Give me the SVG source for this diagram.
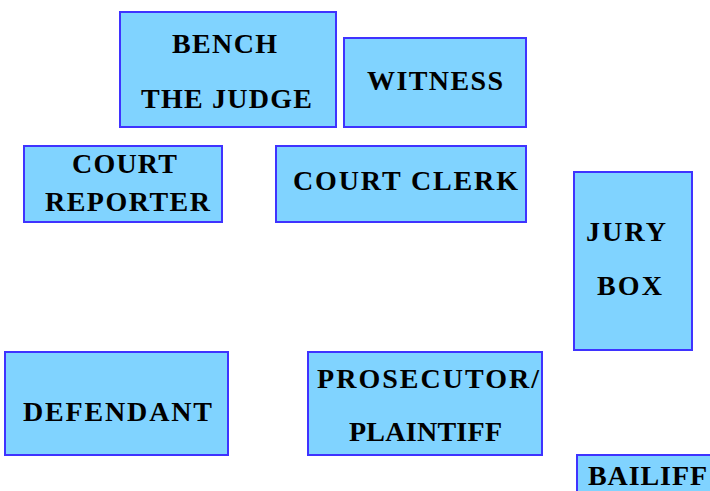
<svg xmlns="http://www.w3.org/2000/svg" width="710" height="491" viewBox="0 0 710 491">
<style>
.box{fill:#80D3FF;stroke:#3F33FF;stroke-width:2}
.t{font-family:"Liberation Serif","Times New Roman",serif;font-weight:bold;font-size:28px;fill:#000}
</style>
<rect width="710" height="491" fill="#fff"/>
<g id="connectors"/>
<g id="bench"><rect class="box" x="120" y="12" width="216" height="115"/>
<text class="t" x="172" y="53" textLength="105" lengthAdjust="spacing">BENCH</text>
<text class="t" x="141" y="108" textLength="171" lengthAdjust="spacing">THE JUDGE</text></g>
<g id="witness"><rect class="box" x="344" y="38" width="182" height="89"/>
<text class="t" x="367" y="90" textLength="136" lengthAdjust="spacing">WITNESS</text></g>
<g id="court-reporter"><rect class="box" x="24" y="146" width="198" height="76"/>
<text class="t" x="72" y="173" textLength="105" lengthAdjust="spacing">COURT</text>
<text class="t" x="45" y="211" textLength="165" lengthAdjust="spacing">REPORTER</text></g>
<g id="court-clerk"><rect class="box" x="276" y="146" width="250" height="76"/>
<text class="t" x="293" y="190" textLength="225" lengthAdjust="spacing">COURT CLERK</text></g>
<g id="jury-box"><rect class="box" x="574" y="172" width="118" height="178"/>
<text class="t" x="586" y="241" textLength="80" lengthAdjust="spacing">JURY</text>
<text class="t" x="597" y="295" textLength="65" lengthAdjust="spacing">BOX</text></g>
<g id="defendant"><rect class="box" x="5" y="352" width="223" height="103"/>
<text class="t" x="23" y="421" textLength="189" lengthAdjust="spacing">DEFENDANT</text></g>
<g id="prosecutor"><rect class="box" x="308" y="352" width="234" height="103"/>
<text class="t" x="317" y="388" textLength="222" lengthAdjust="spacing">PROSECUTOR/</text>
<text class="t" x="349" y="441" textLength="153" lengthAdjust="spacing">PLAINTIFF</text></g>
<g id="bailiff"><rect class="box" x="577" y="455" width="140" height="50"/>
<text class="t" x="588" y="485" textLength="119" lengthAdjust="spacing">BAILIFF</text></g>
</svg>
